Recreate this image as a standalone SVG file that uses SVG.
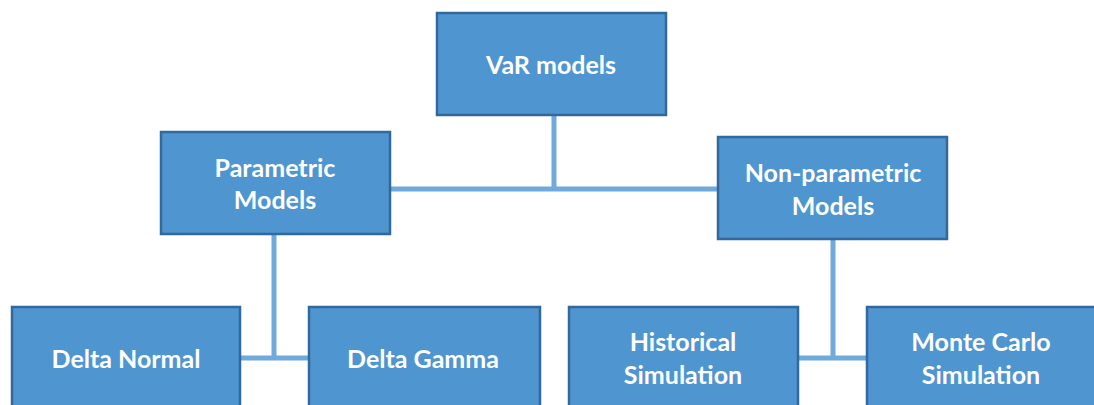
<svg xmlns="http://www.w3.org/2000/svg" width="1094" height="405" viewBox="0 0 1094 405">
<style>
.box{fill:#4f95d0;stroke:#31699c;stroke-width:2.5}
.lbl{font-family:Lato,"Open Sans","Liberation Sans",sans-serif;font-weight:bold;font-size:25px;fill:#ffffff;text-anchor:middle;dominant-baseline:central}
.conn{stroke:#70a9dc;stroke-width:5;fill:none}
</style>
<rect width="1094" height="405" fill="#ffffff"/>
<g id="connectors">
<path class="conn" d="M554 115 V189 M390 189 H718"/>
<path class="conn" d="M274 234 V358 M240 358 H309"/>
<path class="conn" d="M833 239 V358 M798 358 H867"/>
</g>
<g id="var-models"><rect class="box" x="437" y="13" width="229" height="102"/><text class="lbl" x="551" y="64">VaR models</text></g>
<g id="parametric"><rect class="box" x="161" y="132" width="229" height="102"/><text class="lbl" x="275" y="167">Parametric</text><text class="lbl" x="275" y="199">Models</text></g>
<g id="non-parametric"><rect class="box" x="718" y="137" width="229" height="102"/><text class="lbl" x="833" y="172">Non-parametric</text><text class="lbl" x="833" y="205">Models</text></g>
<g id="delta-normal"><rect class="box" x="12" y="307" width="228" height="104"/><text class="lbl" x="126" y="358">Delta Normal</text></g>
<g id="delta-gamma"><rect class="box" x="309" y="307" width="231" height="104"/><text class="lbl" x="423" y="358">Delta Gamma</text></g>
<g id="historical"><rect class="box" x="569" y="307" width="229" height="104"/><text class="lbl" x="683" y="341">Historical</text><text class="lbl" x="683" y="374">Simulation</text></g>
<g id="monte-carlo"><rect class="box" x="867" y="307" width="230" height="104"/><text class="lbl" x="981" y="341">Monte Carlo</text><text class="lbl" x="981" y="374">Simulation</text></g>
</svg>
